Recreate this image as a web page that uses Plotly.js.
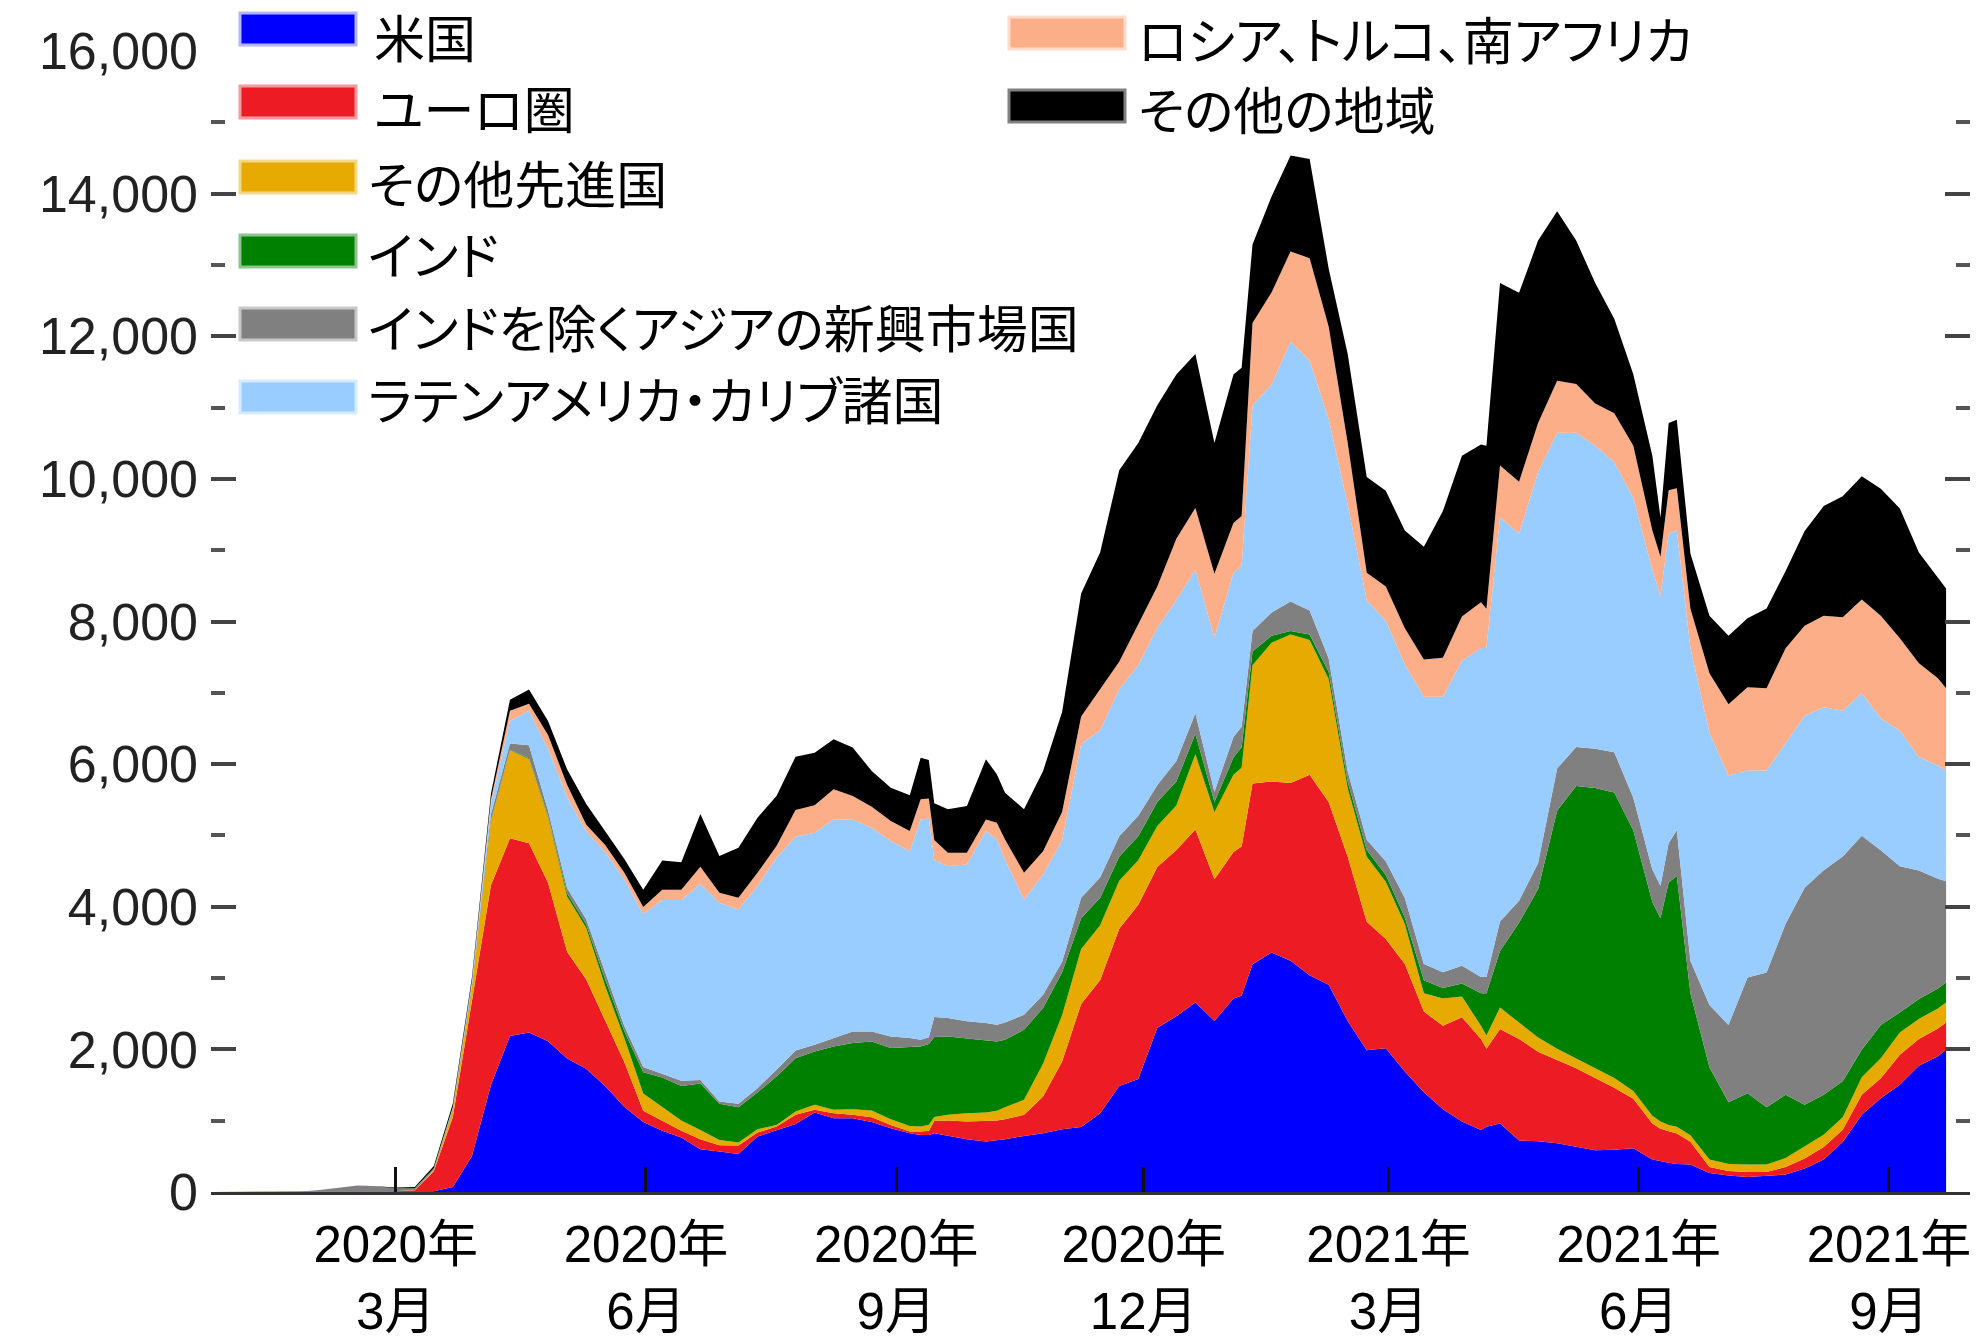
<!DOCTYPE html>
<html>
<head>
<meta charset="utf-8">
<script src="https://cdn.plot.ly/plotly-3.0.1.min.js"></script>
<style>
html,body{margin:0;padding:0;background:#ffffff;}
#chart{width:1977px;height:1339px;}
.annotation-text{font-feature-settings:"palt" 1;}
</style>
</head>
<body>
<div id="chart"></div>
<script>
// ---- data (daily deaths) ----
const dates = ['2019-12-24','2020-01-19','2020-01-26','2020-02-02','2020-02-09','2020-02-16','2020-02-23','2020-03-01','2020-03-08','2020-03-15','2020-03-22','2020-03-29','2020-04-05','2020-04-12','2020-04-19','2020-04-26','2020-05-03','2020-05-10','2020-05-17','2020-05-24','2020-05-31','2020-06-07','2020-06-14','2020-06-21','2020-06-28','2020-07-05','2020-07-12','2020-07-19','2020-07-26','2020-08-02','2020-08-09','2020-08-16','2020-08-23','2020-08-30','2020-09-06','2020-09-10','2020-09-13','2020-09-15','2020-09-20','2020-09-27','2020-10-04','2020-10-08','2020-10-11','2020-10-18','2020-10-25','2020-11-01','2020-11-08','2020-11-15','2020-11-22','2020-11-29','2020-12-06','2020-12-13','2020-12-20','2020-12-27','2021-01-03','2021-01-06','2021-01-10','2021-01-17','2021-01-24','2021-01-31','2021-02-07','2021-02-14','2021-02-21','2021-02-28','2021-03-07','2021-03-14','2021-03-21','2021-03-28','2021-04-04','2021-04-06','2021-04-11','2021-04-18','2021-04-25','2021-05-02','2021-05-09','2021-05-16','2021-05-23','2021-05-30','2021-06-06','2021-06-09','2021-06-12','2021-06-15','2021-06-20','2021-06-27','2021-07-04','2021-07-11','2021-07-18','2021-07-25','2021-08-01','2021-08-08','2021-08-15','2021-08-22','2021-08-29','2021-09-05','2021-09-12','2021-09-19','2021-09-22'];

const usa = [0,0,0,0,0,0,0,0,1,10,70,500,1500,2187,2235,2114,1873,1728,1487,1197,980,859,763,600,567,534,777,871,955,1114,1035,1035,983,894,824,800,800,824,787,740,707,721,740,787,824,880,911,1103,1487,1583,2302,2465,2657,2398,2715,2753,3194,3358,3242,3041,2907,2398,1986,2015,1690,1398,1161,987,868,914,959,722,713,685,640,585,594,612,457,429,411,393,384,266,231,210,224,245,329,455,700,1084,1315,1504,1770,1903,1994];

const euroArea = [0,0,0,0,0,0,1,8,25,280,980,2150,2800,2775,2655,2221,1496,1255,917,628,160,145,96,140,88,117,56,47,127,38,70,47,66,47,23,47,60,170,215,248,295,281,281,295,515,950,1727,1871,2206,2446,2255,2332,2427,1986,2053,2091,2533,2398,2495,2811,2561,2303,1803,1534,1508,1133,1169,1462,1279,1096,1326,1425,1252,1170,1096,1014,868,695,503,457,439,429,320,84,63,70,56,105,140,175,174,280,280,420,377,391,384];

const otherAdvanced = [0,0,0,0,0,0,0,1,3,20,90,200,900,1231,1182,917,773,724,483,337,240,193,145,130,75,42,47,23,46,70,47,79,93,80,80,71,84,56,80,117,112,136,168,210,459,650,768,767,672,624,575,623,1056,940,1084,1104,1660,1947,2081,1890,1727,959,912,800,560,256,384,292,183,183,301,229,201,155,137,137,137,109,109,101,91,92,91,105,98,105,105,126,175,174,175,245,280,314,280,280,280];

const india = [0,0,0,0,0,0,0,0,0,0,1,2,5,10,10,15,48,48,96,97,300,410,483,650,506,496,515,679,749,749,889,927,970,997,1105,1123,1133,1124,1100,1053,1021,974,946,983,782,600,431,384,336,335,336,336,287,144,240,287,192,96,48,76,96,96,96,96,91,183,146,183,457,594,795,1398,2083,3336,3820,3930,4003,3656,2997,2851,3400,3518,1992,1294,867,1000,804,888,580,560,504,385,468,280,280,280,280];

const otherAsiaEM = [0,2,8,28,60,92,75,45,25,20,25,40,90,87,183,81,72,73,97,72,72,49,72,50,33,47,61,94,108,94,117,164,140,164,126,94,94,281,257,235,234,234,243,211,187,150,288,288,287,288,240,288,288,144,287,288,287,326,413,336,192,144,143,192,274,228,220,247,229,229,411,311,366,594,548,548,566,456,457,457,548,639,457,874,1084,1623,1889,2399,3043,3148,3150,3000,2450,2050,1800,1540,1420];

const latinAmerica = [0,0,0,0,0,0,0,0,0,2,20,50,150,313,483,869,1279,1231,1689,2052,2148,2437,2534,2750,2786,2725,2833,2973,2997,2973,3067,2973,2856,2739,2622,3090,3067,2200,2131,2200,2692,2598,2285,1615,1686,1700,2158,2062,2063,2111,2206,2254,2015,2158,2303,2255,3166,3195,3645,3502,3357,3741,3358,3373,3279,3747,3865,4276,4614,4614,5666,5144,5482,4706,4405,4249,4067,4204,4204,4066,4340,4204,4386,3812,3498,2903,2833,2533,2413,2287,2047,2001,1852,1902,1593,1587,1553];

const rusTurSaf = [0,0,0,0,0,0,0,0,0,1,5,12,60,145,97,193,169,96,97,96,96,145,145,240,140,164,187,164,374,384,422,328,295,281,281,281,281,281,187,164,164,234,281,375,327,400,384,576,384,575,576,863,863,900,700,700,1154,1295,1266,1438,1295,863,384,480,502,521,548,622,640,549,731,731,686,731,685,594,685,731,548,548,612,594,549,840,1000,1168,1154,1329,1259,1280,1308,1315,1434,1294,1315,1224,1154];

const otherRegions = [0,0,0,0,0,0,3,8,15,30,50,50,80,155,202,193,218,290,193,194,242,410,386,740,515,702,773,702,749,739,702,679,501,468,501,585,538,515,609,655,843,679,656,890,1124,1400,1727,1919,2686,2542,2542,2303,2158,1834,2082,2082,1100,1343,1343,1391,815,1247,1343,1343,1371,1581,2056,2257,2211,2284,2558,2650,2558,2376,2010,1690,1325,1005,1051,549,942,960,776,804,958,965,1119,1084,1329,1539,1700,1728,1784,1819,1553,1399,1399];

const seriesNames = ['米国','ユーロ圏','その他先進国','インド','インドを除くアジアの新興市場国','ラテンアメリカ・カリブ諸国','ロシア、トルコ、南アフリカ','その他の地域'];
const seriesValues = [usa, euroArea, otherAdvanced, india, otherAsiaEM, latinAmerica, rusTurSaf, otherRegions];
const seriesColors = ['#0000FF','#ED1C24','#E6AA00','#008000','#808080','#99CCFF','#FCAE88','#000000'];
const swatchBorders = ['#B3B3FF','#F59AA0','#F3D88A','#8CC48C','#C8C8C8','#D6EBFF','#FEDCCB','#808080'];

const tickDates = ['2020-03-01','2020-06-01','2020-09-01','2020-12-01','2021-03-01','2021-06-01','2021-09-01'];
const tickLabels = ['2020年<br>3月','2020年<br>6月','2020年<br>9月','2020年<br>12月','2021年<br>3月','2021年<br>6月','2021年<br>9月'];

// ---- layout geometry (pixels) ----
const W = 1977, H = 1339;
const PL = 211, PR = 1970, PT = 51, PB = 1192;
const fx = x => (x - PL) / (PR - PL);
const fy = y => (PB - y) / (PB - PT);

const traces = seriesValues.map((vals, i) => ({
  type: 'scatter',
  mode: 'lines',
  x: dates,
  y: vals,
  name: seriesNames[i],
  stackgroup: 'one',
  line: {width: 0, color: seriesColors[i]},
  fillcolor: seriesColors[i],
  hoverinfo: 'skip',
  showlegend: false
}));

// manual legend (two columns)
const legendSlots = [
  {sx: 240, sy: 29, tx: 372, ty: 36},
  {sx: 240, sy: 102, tx: 372, ty: 107},
  {sx: 240, sy: 177, tx: 366, ty: 182},
  {sx: 240, sy: 251, tx: 366, ty: 253},
  {sx: 240, sy: 324, tx: 366, ty: 326},
  {sx: 240, sy: 397, tx: 366, ty: 398},
  {sx: 1009, sy: 33, tx: 1136, ty: 38},
  {sx: 1009, sy: 106, tx: 1136, ty: 108}
];
const shapes = [];
const annotations = [];
legendSlots.forEach((s, i) => {
  shapes.push({
    type: 'rect', xref: 'paper', yref: 'paper', layer: 'above',
    x0: fx(s.sx), x1: fx(s.sx + 116), y0: fy(s.sy + 16), y1: fy(s.sy - 16),
    fillcolor: seriesColors[i], line: {color: swatchBorders[i], width: 3}
  });
  annotations.push({
    xref: 'paper', yref: 'paper', x: fx(s.tx), y: fy(s.ty),
    xanchor: 'left', yanchor: 'middle', showarrow: false,
    text: seriesNames[i],
    font: {family: '"Noto Sans CJK JP", sans-serif', size: 51, color: '#000000'}
  });
});

const layout = {
  width: W, height: H, autosize: false,
  margin: {l: PL, r: W - PR, t: PT, b: H - PB, pad: 0},
  paper_bgcolor: '#ffffff', plot_bgcolor: '#ffffff',
  showlegend: false,
  xaxis: {
    type: 'date',
    range: ['2019-12-24 02:00', '2021-09-30 19:00'],
    tickmode: 'array', tickvals: tickDates, ticktext: tickLabels,
    ticks: 'inside', ticklen: 25, tickwidth: 3, tickcolor: '#111111',
    showline: true, linecolor: '#333333', linewidth: 3,
    showgrid: false, zeroline: false,
    ticklabelstandoff: 6,
    tickfont: {family: '"Liberation Sans", Arial, "Noto Sans CJK JP", sans-serif', size: 51, color: '#000000'},
    fixedrange: true
  },
  yaxis: {
    range: [0, 16000],
    tickmode: 'linear', tick0: 0, dtick: 2000,
    tickformat: ',',
    ticks: 'inside', ticklen: 25, tickwidth: 4, tickcolor: '#444444',
    mirror: 'ticks', showline: false,
    showgrid: false, zeroline: false,
    minor: {dtick: 1000, ticks: 'inside', ticklen: 14, tickwidth: 4, tickcolor: '#555555', showgrid: false},
    ticklabelstandoff: 12,
    tickfont: {family: '"Liberation Sans", Arial, sans-serif', size: 52, color: '#222222'},
    fixedrange: true
  },
  shapes: shapes,
  annotations: annotations
};

Plotly.newPlot('chart', traces, layout, {displayModeBar: false, staticPlot: true});
</script>
</body>
</html>
